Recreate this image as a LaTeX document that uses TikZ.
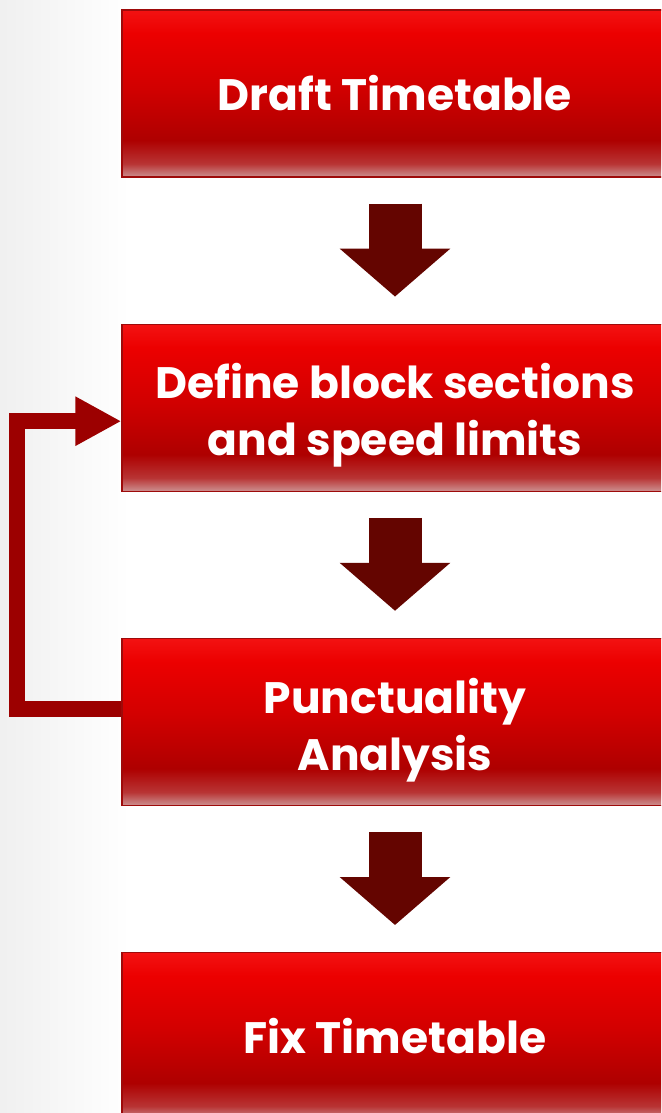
\documentclass[tikz,border=0pt]{standalone}
\usepackage{fontspec}
\setmainfont{Poppins}
\usepackage{tikz}
\usetikzlibrary{positioning,arrows.meta}
\definecolor{stagetop}{HTML}{F31212}
\definecolor{stagehi}{HTML}{EC0000}
\definecolor{stagemid}{HTML}{D20000}
\definecolor{stagelow}{HTML}{AE0000}
\definecolor{stagefade}{HTML}{B83434}
\definecolor{stagefoot}{HTML}{CC9090}
\definecolor{stageedge}{HTML}{9E0A0A}
\definecolor{flowred}{HTML}{640500}
\definecolor{loopred}{HTML}{9C0000}
\pgfdeclareverticalshading{stagefill}{100bp}{color(0bp)=(stagefoot); color(25bp)=(stagefoot);
  color(29bp)=(stagefade); color(36bp)=(stagelow); color(52bp)=(stagemid);
  color(68bp)=(stagehi); color(75bp)=(stagetop); color(100bp)=(stagetop)}
\tikzstyle{stage} = [draw=stageedge, line width=1.2pt, shade, shading=stagefill,
    minimum width=546pt, minimum height=167pt, inner sep=0pt,
    text=white, font=\fontsize{44}{57}\selectfont\bfseries, align=center]
\tikzstyle{flow} = [draw=flowred, line width=53pt, -{Triangle[length=48pt,width=108pt]},
    shorten <=26pt, shorten >=27pt]
\tikzstyle{feedback} = [draw=loopred, line width=16pt, -{Triangle[length=46pt,width=46pt]}]

\begin{document}
\begin{tikzpicture}[x=1pt,y=-1pt]
	\useasboundingbox (0,0) rectangle (661,1113);
	\clip (0,0) rectangle (661,1113);
	\fill[white] (0,0) rectangle (661,1113);
	\shade[left color=black!6, right color=white] (0,0) rectangle (130,1113);

	\node[stage] (draft) at (395,93.5) {Draft Timetable};
	\node[stage, below=146pt of draft] (blocks) {\\[-6pt]Define block sections\\and speed limits};
	\node[stage, below=146pt of blocks] (punct) {\\[-6pt]Punctuality\\Analysis};
	\node[stage, below=146pt of punct] (fix) {Fix Timetable};

	\draw[flow] (draft) to (blocks);
	\draw[flow] (blocks) to (punct);
	\draw[flow] (punct) to (fix);

	\draw[feedback] ([yshift=13pt]punct.west) -- ++(-104pt,0pt) |- ([yshift=-13.5pt]blocks.west);
\end{tikzpicture}
\end{document}
